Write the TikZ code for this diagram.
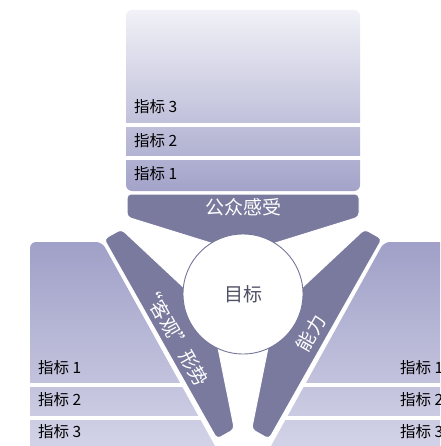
\documentclass[tikz,border=0pt]{standalone}
\usepackage{fontspec}
\newfontfamily\cjk{Noto Sans CJK SC}
\definecolor{armc}{RGB}{122,122,158}
\definecolor{circc}{RGB}{118,118,156}
\definecolor{goalc}{RGB}{80,80,100}
\definecolor{toptop}{RGB}{241,241,247}
\definecolor{topbot}{RGB}{163,163,202}
\definecolor{sidetop}{RGB}{160,160,200}
\definecolor{sidebot}{RGB}{216,216,235}
\begin{document}
\begin{tikzpicture}[x=1pt,y=-1pt,
  armshape/.style={fill=armc, draw=white, line width=1pt, rounded corners=4pt},
  lbl/.style={font=\cjk\fontsize{15.5}{16}\selectfont, anchor=west, inner sep=0pt, text=black},
  armtext/.style={font=\cjk\fontsize{19}{20}\selectfont, text=white, inner sep=0pt},
  stripe/.style={fill=white}]
\useasboundingbox (0,0) rectangle (440,446);
\clip (0,0) rectangle (440,446);
% top panel
\shade[top color=toptop, bottom color=topbot, rounded corners=6pt] (126,10) rectangle (360,191);
\fill[stripe] (120,123) rectangle (366,127);
\fill[stripe] (120,156) rectangle (366,160);
% left panel
\shade[top color=sidetop, bottom color=sidebot, rounded corners=6pt]
  (30,470) -- (30,242) -- (102,242) -- (228.3,470) -- cycle;
% right panel
\shade[top color=sidetop, bottom color=sidebot, rounded corners=6pt]
  (470,470) -- (470,242) -- (384,242) -- (257.7,470) -- cycle;
\fill[stripe] (0,383) rectangle (440,387);
\fill[stripe] (0,416) rectangle (440,420);
% arms
\path[armshape] (127,194) -- (359,194) -- (359,217) -- (243,253) -- (127,217) -- cycle;
\path[armshape] (104,239) -- (217,439) -- (234.4,429.2) -- (211,313) -- (121.4,229.2) -- cycle;
\path[armshape] (382,239) -- (269,439) -- (251.6,429.2) -- (275,313) -- (364.6,229.2) -- cycle;
% centre
\node[circle, draw=circc, fill=white, line width=0.9pt, minimum size=120pt, inner sep=0pt,
  font=\cjk\fontsize{19}{20}\selectfont, text=goalc] (goal) at (243,294) {目标};
% arm texts
\node[armtext] (gz) at (243,207) {公众感受};
\node[armtext, rotate=-60.5] (kg) at (175,335) {“客观”形势};
\node[armtext, rotate=60.5] (nl) at (311,333) {能力};
% labels
\node[lbl] (top3) at (134,107) {指标 3};
\node[lbl] (top2) at (134,141) {指标 2};
\node[lbl] (top1) at (134,174) {指标 1};
\node[lbl] (l1) at (38,368) {指标 1};
\node[lbl] (l2) at (38,400) {指标 2};
\node[lbl] (l3) at (38,432) {指标 3};
\node[lbl] (r1) at (400,368) {指标 1};
\node[lbl] (r2) at (400,400) {指标 2};
\node[lbl] (r3) at (400,432) {指标 3};
\end{tikzpicture}
\end{document}
